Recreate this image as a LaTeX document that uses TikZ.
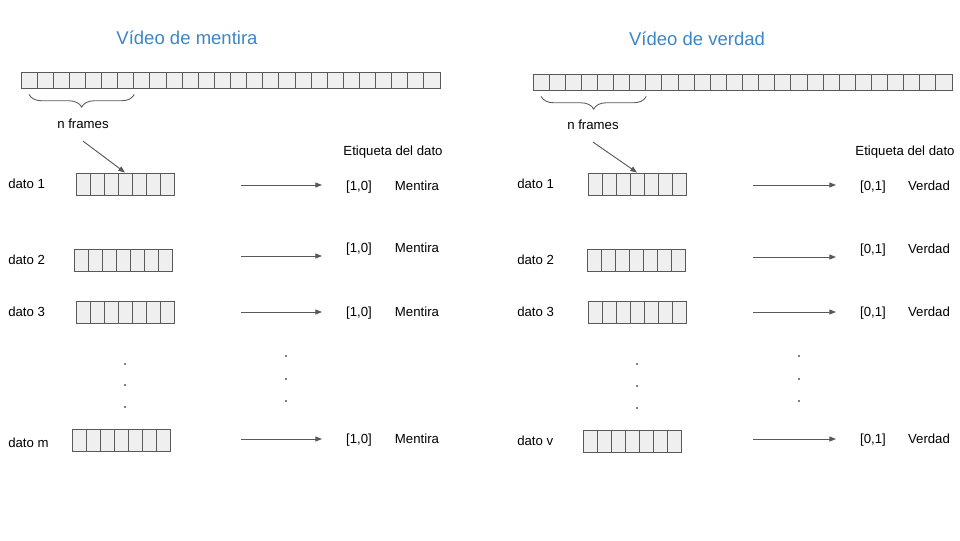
\documentclass[tikz,border=0pt]{standalone}
\usepackage{fontspec}
\setmainfont{Liberation Sans}
\usetikzlibrary{arrows.meta,decorations.pathreplacing}

\definecolor{azul}{HTML}{3D85C6}
\definecolor{gris}{HTML}{595959}
\definecolor{relleno}{HTML}{EFEFEF}

\tikzset{
  celdatira/.style={draw=gris, fill=relleno, line width=0.65pt, inner sep=0pt,
    minimum width=12.09pt, minimum height=12pt},
  celdadato/.style={draw=gris, fill=relleno, line width=0.7pt, inner sep=0pt,
    minimum width=10.5pt, minimum height=16.5pt},
  texto/.style={font=\fontsize{9.9}{12}\selectfont, inner sep=0pt,
    text height=1.5ex, text depth=.25ex},
  titulo/.style={font=\fontsize{13.9}{16}\selectfont, text=azul, inner sep=0pt},
  flecha/.style={draw=gris, line width=0.7pt, -{Triangle[length=5pt,width=3.8pt]}},
  llave/.style={draw=gris, line width=0.65pt, decorate,
    decoration={brace, mirror, amplitude=9.5pt, raise=4.5pt}},
  punto/.style={fill=black}
}

\begin{document}
\begin{tikzpicture}[x=0.75pt, y=-0.75pt]

    \useasboundingbox (0,0) rectangle (960,540);

    % 1. Titulos de los dos videos
    \node[titulo] (tituloM) at (187,38) {Vídeo de mentira};
    \node[titulo] (tituloV) at (697,39) {Vídeo de verdad};

    % 2. Tiras de fotogramas completas
    \foreach \i in {1,...,26} {
        \node[celdatira] (tM-\i) at ({21+16.115*(\i-0.5)},80) {};
        \node[celdatira] (tV-\i) at ({533+16.115*(\i-0.5)},82) {};
    }

    % 3. Llaves bajo los primeros n fotogramas
    \draw[llave] (tM-1.south) -- (tM-7.south east);
    \draw[llave] (tV-1.south) -- (tV-7.south east);
    \node[texto] (nM) at (83,124) {n frames};
    \node[texto] (nV) at (593,125) {n frames};

    % 4. Cabeceras de las etiquetas
    \node[texto] (cabM) at (393,151) {Etiqueta del dato};
    \node[texto] (cabV) at (905,151) {Etiqueta del dato};

    % 5. Datos del video de mentira
    \foreach \n/\bx/\by/\ty/\ay/\ey in {1/76/184/184/185/186, 2/74/260/260/256/248,
                                       3/76/312/312/312/312, m/72/440.5/443/439/439} {
        \node[texto, anchor=west] (lM\n) at (8,\ty) {dato \n};
        \foreach \i in {1,...,7}
            \node[celdadato] (dM\n-\i) at ({\bx+14*(\i-0.5)},\by) {};
        \coordinate (aM\n) at (241,\ay);
        \coordinate (bM\n) at (322,\ay);
        \draw[flecha] (aM\n) -- (bM\n);
        \node[texto] (vM\n) at (359,\ey) {[1,0]};
        \node[texto] (eM\n) at (417,\ey) {Mentira};
    }

    % 6. Datos del video de verdad
    \foreach \n/\bx/\by/\ty/\ay/\ey in {1/588/184/184/185/186, 2/587/260/260/257/249,
                                       3/588/312/312/312/312, v/583/441/441/439/439} {
        \node[texto, anchor=west] (lV\n) at (517,\ty) {dato \n};
        \foreach \i in {1,...,7}
            \node[celdadato] (dV\n-\i) at ({\bx+14*(\i-0.5)},\by) {};
        \coordinate (aV\n) at (753,\ay);
        \coordinate (bV\n) at (836,\ay);
        \draw[flecha] (aV\n) -- (bV\n);
        \node[texto] (vV\n) at (873,\ey) {[0,1]};
        \node[texto] (eV\n) at (929,\ey) {Verdad};
    }

    % 7. Flechas de n frames al primer dato
    \draw[flecha] ([yshift=-8pt]nM.south) -- (dM1-4.north);
    \draw[flecha] ([yshift=-8pt]nV.south) -- (dV1-4.north);

    % 8. Puntos suspensivos
    \foreach \x/\y in {125/364, 125/385, 125/407, 286/356, 286/379, 286/401,
                       637/364, 637/386, 637/408, 799/356, 799/379, 799/401}
        \fill[punto] (\x,\y) circle (0.9);

\end{tikzpicture}
\end{document}
